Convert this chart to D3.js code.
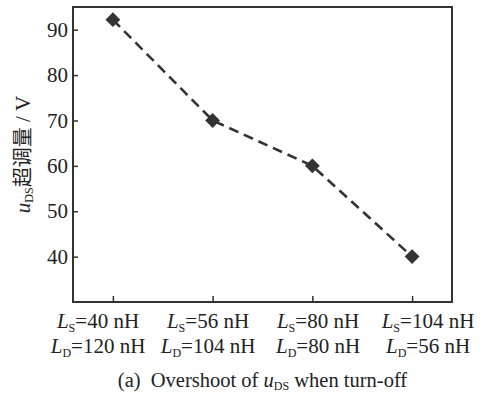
<!DOCTYPE html>
<html>
<head>
<meta charset="utf-8">
<script src="https://cdn.jsdelivr.net/npm/d3@7"></script>
<style>
  body { margin: 0; background: #fff; }
  text { font-family: "Liberation Serif", "Times New Roman", serif; fill: #222; }
</style>
</head>
<body>
<div id="chart"></div>
<script>
var categories = ["c1", "c2", "c3", "c4"];
var lsLabels = ["40", "56", "80", "104"];
var ldLabels = ["120", "104", "80", "56"];
var overshoot = [92.2, 70, 60, 40];
var yTicks = [40, 50, 60, 70, 80, 90];

var W = 489, H = 394;
var pLeft = 73, pRight = 452, pTop = 7, pBottom = 302;

var svg = d3.select("#chart").append("svg")
  .attr("width", W)
  .attr("height", H);

var x = d3.scalePoint().domain(categories).range([pLeft, pRight]).padding(0.4);
var xLab = d3.scalePoint().domain(categories).range([98, 428]);
var y = d3.scaleLinear().domain([30, 95]).range([pBottom, pTop]);

// y axis
var yAxis = svg.append("g")
  .attr("transform", "translate(" + pLeft + ",0)")
  .call(d3.axisLeft(y).tickValues(yTicks).tickSizeInner(-5).tickSizeOuter(0).tickPadding(5));
yAxis.select(".domain").remove();
yAxis.selectAll("line").attr("stroke", "#333").attr("stroke-width", 1.5);
yAxis.selectAll("text")
  .attr("font-family", "Liberation Serif")
  .attr("font-size", 21)
  .attr("fill", "#222");

// x axis ticks
var xAxis = svg.append("g")
  .attr("transform", "translate(0," + pBottom + ")")
  .call(d3.axisBottom(x).tickSizeInner(-6).tickSizeOuter(0).tickFormat(""));
xAxis.select(".domain").remove();
xAxis.selectAll("line").attr("stroke", "#333").attr("stroke-width", 1.5);

// frame
svg.append("rect")
  .attr("x", pLeft)
  .attr("y", pTop)
  .attr("width", pRight - pLeft)
  .attr("height", pBottom - pTop)
  .attr("fill", "none")
  .attr("stroke", "#333")
  .attr("stroke-width", 2);

// line
var line = d3.line()
  .x(function(d, i) { return x(categories[i]); })
  .y(function(d) { return y(d); });

svg.append("path")
  .datum(overshoot)
  .attr("d", line)
  .attr("fill", "none")
  .attr("stroke", "#333")
  .attr("stroke-width", 2.6)
  .attr("stroke-dasharray", "10,6");

svg.selectAll("path.pt")
  .data(overshoot)
  .enter().append("path")
    .attr("class", "pt")
    .attr("d", d3.symbol().type(d3.symbolSquare).size(110))
    .attr("transform", function(d, i) {
      return "translate(" + x(categories[i]) + "," + y(d) + ") rotate(45)";
    })
    .attr("fill", "#333");

// category labels
function indLabel(row, sub, vals, yy) {
  var t = svg.selectAll("text." + row)
    .data(vals)
    .enter().append("text")
      .attr("class", row)
      .attr("x", function(d, i) { return xLab(categories[i]); })
      .attr("y", yy)
      .attr("text-anchor", "middle")
      .attr("font-size", 21);
  t.append("tspan").attr("font-style", "italic").text("L");
  t.append("tspan").attr("font-size", 12).attr("dy", 4).text(sub);
  t.append("tspan").attr("dy", -4).text(function(d) { return "=" + d + " nH"; });
}
indLabel("ls", "S", lsLabels, 328);
indLabel("ld", "D", ldLabels, 353);

// caption
var cap = svg.append("text")
  .attr("x", (pLeft + pRight) / 2)
  .attr("y", 387)
  .attr("text-anchor", "middle")
  .attr("font-size", 20.5);
cap.append("tspan").text("(a)\u00a0\u00a0Overshoot of ");
cap.append("tspan").attr("font-style", "italic").text("u");
cap.append("tspan").attr("font-size", 12).attr("dy", 3).text("DS");
cap.append("tspan").attr("dy", -3).text(" when turn-off");

// y label
var yl = svg.append("text")
  .attr("transform", "translate(30," + ((pTop + pBottom) / 2) + ") rotate(-90)")
  .attr("text-anchor", "middle")
  .attr("font-size", 21);
yl.append("tspan").attr("font-style", "italic").text("u");
yl.append("tspan").attr("font-size", 12).attr("dy", 3).text("DS");
yl.append("tspan").attr("dy", -3).attr("font-family", "Noto Sans CJK SC").attr("font-size", 20).attr("fill", "#222").text("超调量");
yl.append("tspan").text(" / V");
</script>
</body>
</html>
